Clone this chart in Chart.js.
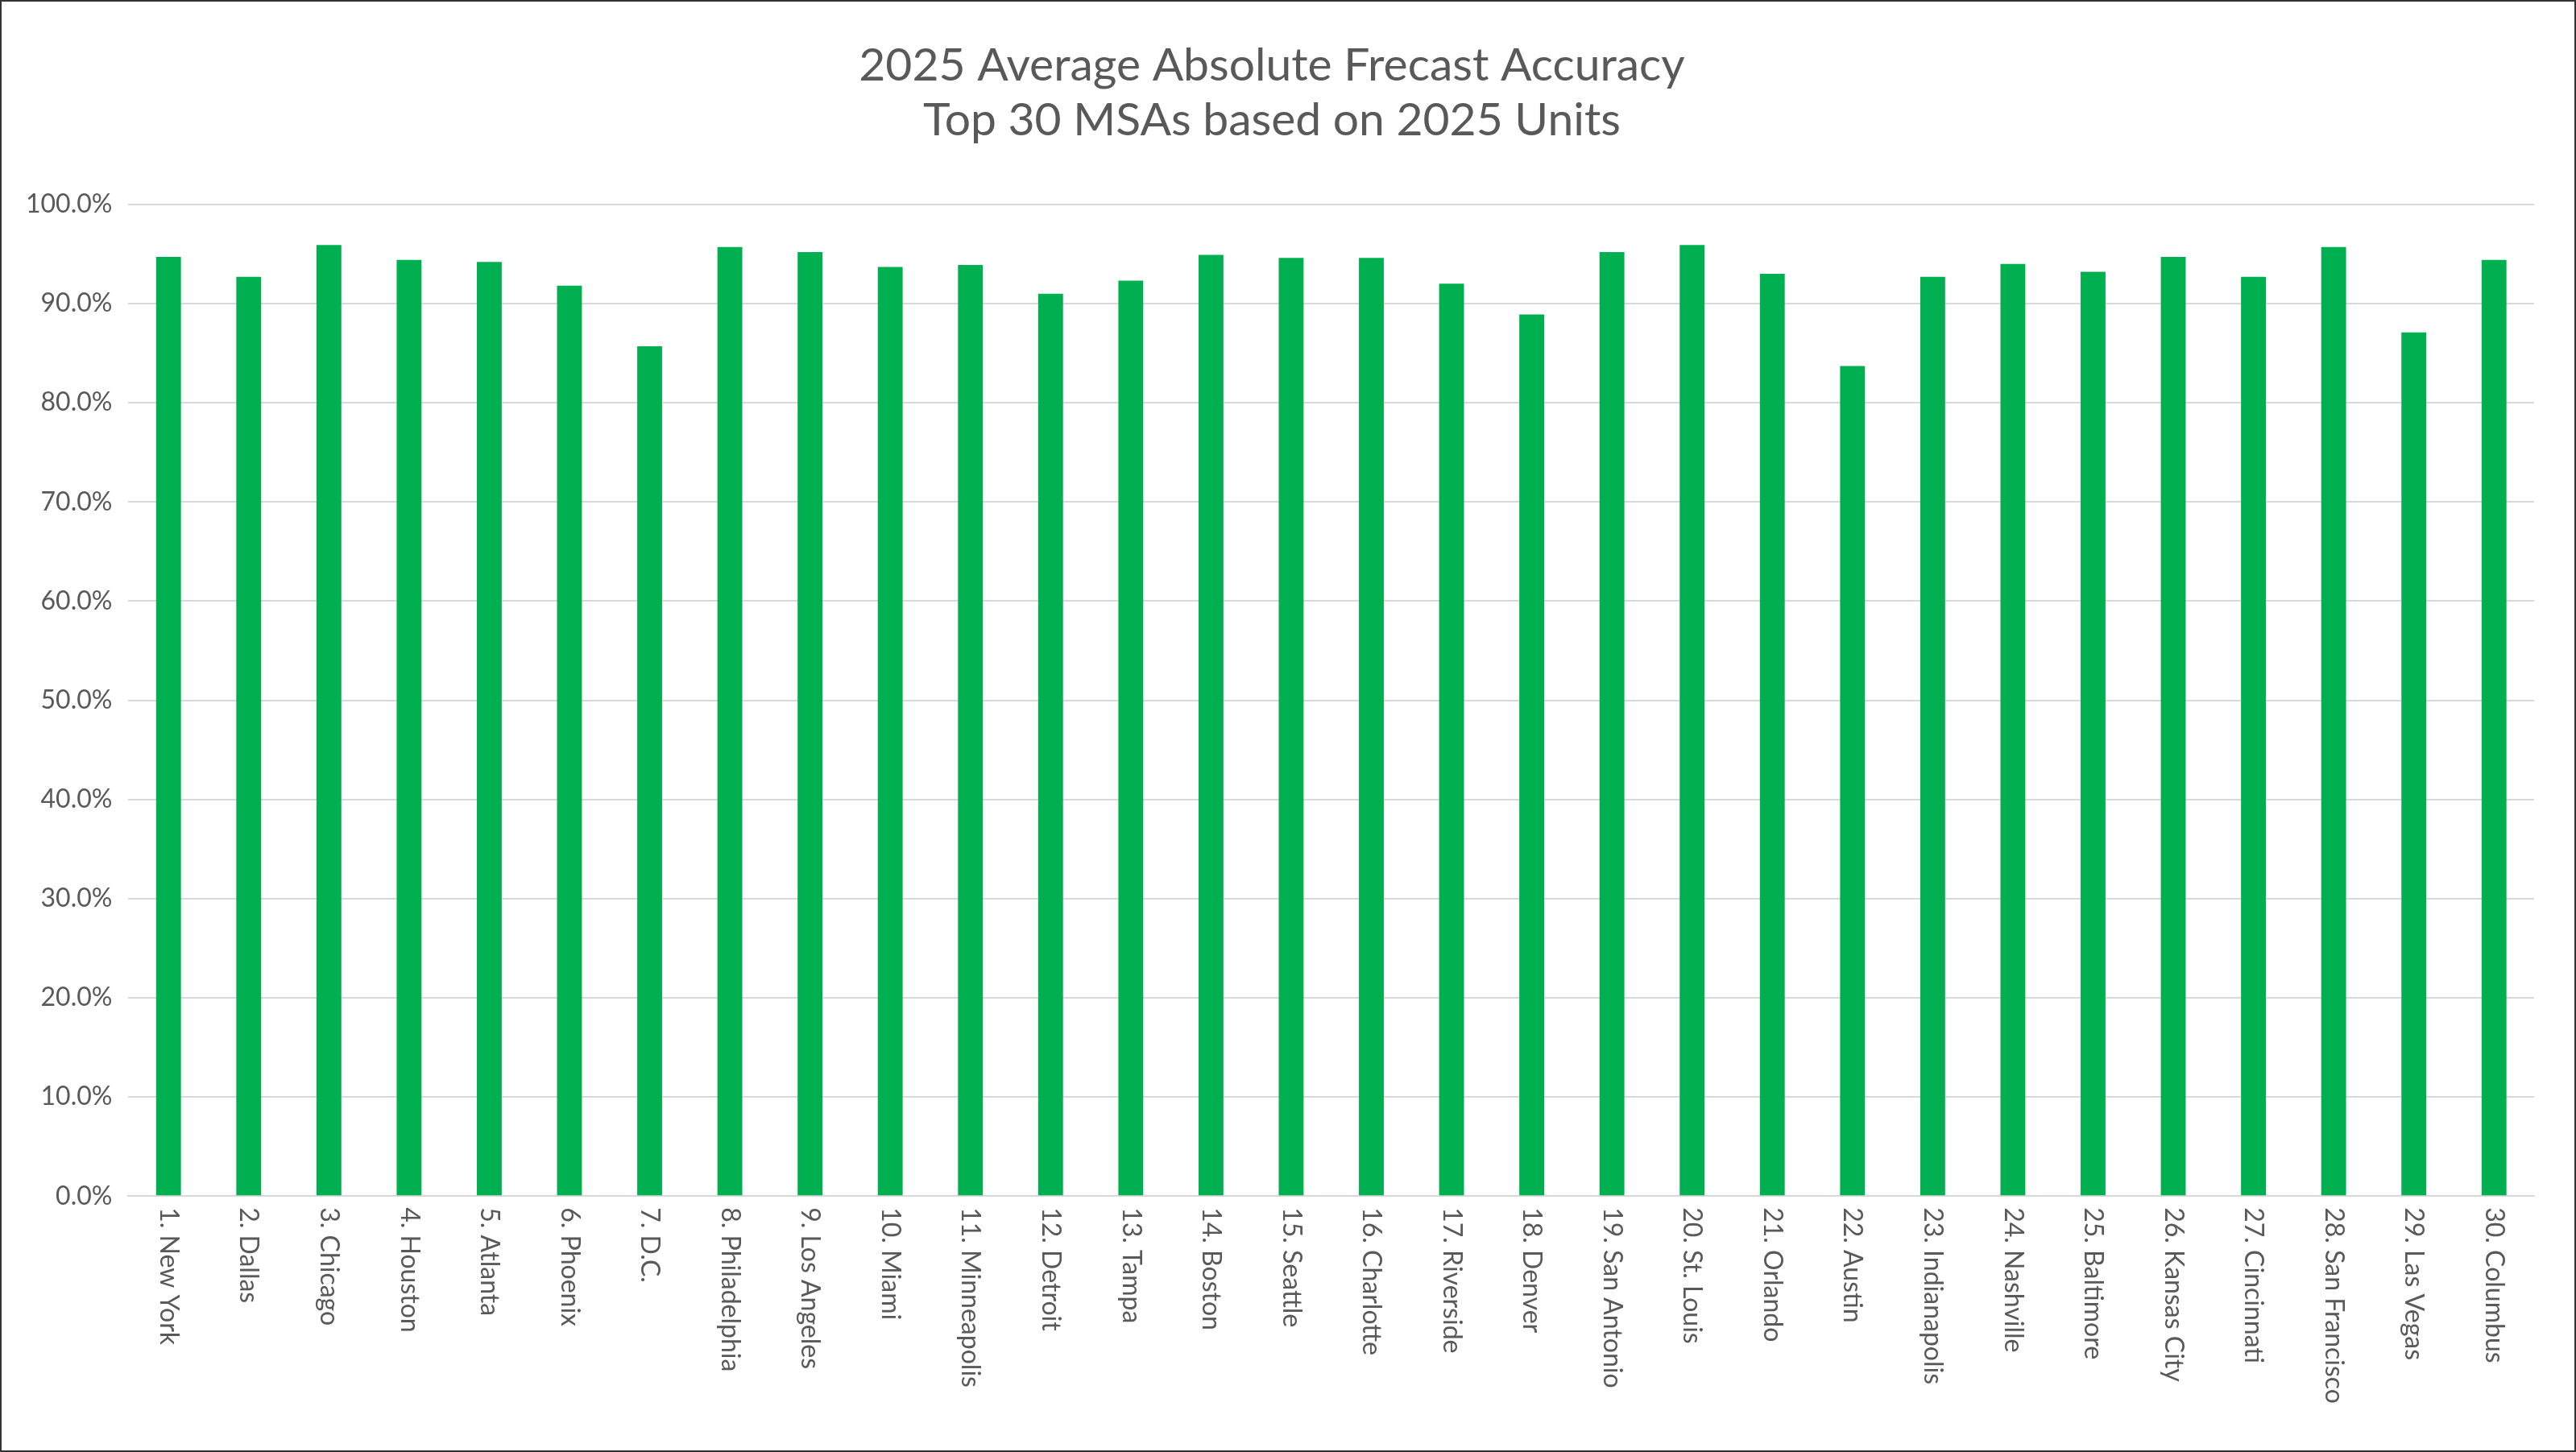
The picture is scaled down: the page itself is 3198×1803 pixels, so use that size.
<!DOCTYPE html>
<html>
<head>
<meta charset="utf-8">
<script src="https://cdn.jsdelivr.net/npm/chart.js@4"></script>
<style>
  html, body { margin: 0; padding: 0; background: #fff; }
  #wrap { width: 3194px; height: 1799px; border: 2px solid #333; }
</style>
</head>
<body>
<div id="wrap"><canvas id="chart" width="3194" height="1799"></canvas></div>
<script>
const categories = [
  "1. New York", "2. Dallas", "3. Chicago", "4. Houston", "5. Atlanta",
  "6. Phoenix", "7. D.C.", "8. Philadelphia", "9. Los Angeles", "10. Miami",
  "11. Minneapolis", "12. Detroit", "13. Tampa", "14. Boston", "15. Seattle",
  "16. Charlotte", "17. Riverside", "18. Denver", "19. San Antonio", "20. St. Louis",
  "21. Orlando", "22. Austin", "23. Indianapolis", "24. Nashville", "25. Baltimore",
  "26. Kansas City", "27. Cincinnati", "28. San Francisco", "29. Las Vegas", "30. Columbus",
];
const accuracy = [
  94.7, 92.7, 95.9, 94.4, 94.2, 91.8, 85.7, 95.7, 95.2, 93.7,
  93.9, 91.0, 92.3, 94.9, 94.6, 94.6, 92.0, 88.9, 95.2, 95.9,
  93.0, 83.7, 92.7, 94.0, 93.2, 94.7, 92.7, 95.7, 87.1, 94.4,
];
const titleLines = ["2025 Average Absolute Frecast Accuracy", "Top 30 MSAs based on 2025 Units"];

const TEXT = "#595959";
const LABEL_FONT = "32px Lato, 'Open Sans', sans-serif";

Chart.defaults.font.family = "Lato, 'Open Sans', sans-serif";
Chart.defaults.color = TEXT;

// Category labels read top-to-bottom (Chart.js rotates the other way),
// so the built-in ticks only reserve the space and this draws the text.
const downLabels = {
  id: "downLabels",
  afterDraw(chart) {
    const scale = chart.scales.x;
    const ctx = chart.ctx;
    ctx.save();
    ctx.font = LABEL_FONT;
    ctx.fillStyle = TEXT;
    ctx.textAlign = "left";
    ctx.textBaseline = "middle";
    categories.forEach((label, i) => {
      ctx.save();
      ctx.translate(scale.getPixelForTick(i), scale.top + 14);
      ctx.rotate(Math.PI / 2);
      ctx.fillText(label, 0, 0);
      ctx.restore();
    });
    ctx.restore();
  },
};

new Chart(document.getElementById("chart"), {
  type: "bar",
  data: {
    labels: categories,
    datasets: [{
      data: accuracy,
      backgroundColor: "#00B050",
      categoryPercentage: 1,
      barPercentage: 0.31,
    }],
  },
  options: {
    responsive: false,
    devicePixelRatio: 1,
    animation: false,
    layout: { padding: { left: 10, right: 50, top: 45, bottom: 40 } },
    scales: {
      x: {
        grid: { display: false },
        border: { color: "#d9d9d9", width: 2 },
        ticks: {
          minRotation: 90, maxRotation: 90, autoSkip: false,
          font: { size: 32 }, color: "rgba(0,0,0,0)", padding: 12,
        },
      },
      y: {
        min: 0, max: 100,
        ticks: {
          stepSize: 10, font: { size: 32 }, color: TEXT, padding: 20,
          callback: v => v.toFixed(1) + "%",
        },
        grid: { color: "#d9d9d9", lineWidth: 2, drawTicks: false },
        border: { display: false },
      },
    },
    plugins: {
      legend: { display: false },
      tooltip: { enabled: false },
      title: {
        display: true,
        text: titleLines,
        font: { size: 57, weight: "normal" },
        color: TEXT,
        lineHeight: 1.4,
        padding: { bottom: 70 },
      },
    },
  },
  plugins: [downLabels],
});
</script>
</body>
</html>
